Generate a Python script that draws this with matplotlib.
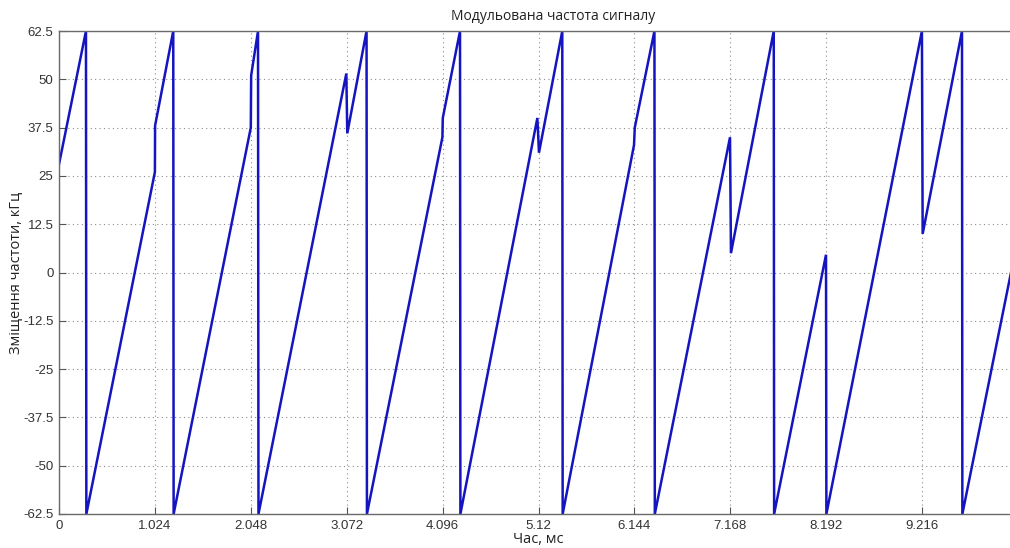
import numpy as np
import matplotlib
matplotlib.use('Agg')
import matplotlib.pyplot as plt

# time (ms) and frequency offset (kHz)
t_ms = [0.000, 0.288, 0.292, 1.024, 1.026, 1.220, 1.224,
        2.048, 2.050, 2.052, 2.125, 2.130,
        3.068, 3.078, 3.284, 3.288,
        4.094, 4.098, 4.282, 4.286,
        5.108, 5.125, 5.374, 5.378,
        6.140, 6.148, 6.358, 6.362,
        7.165, 7.175, 7.632, 7.636,
        8.190, 8.194,
        9.214, 9.218, 9.222, 9.642, 9.646,
        10.24]
f_khz = [28.0, 62.5, -62.5, 26.0, 38.0, 62.5, -62.5,
         37.5, 45.0, 51.0, 62.5, -62.5,
         51.5, 36.0, 62.5, -62.5,
         35.0, 40.0, 62.5, -62.5,
         40.0, 31.0, 62.5, -62.5,
         33.0, 37.5, 62.5, -62.5,
         35.0, 5.0, 62.5, -62.5,
         4.6, -62.5,
         62.5, 37.0, 10.0, 62.5, -62.5,
         9.0]

xticks = [0, 1.024, 2.048, 3.072, 4.096, 5.12, 6.144, 7.168, 8.192, 9.216]
xtick_labels = ['0', '1.024', '2.048', '3.072', '4.096', '5.12', '6.144',
                '7.168', '8.192', '9.216']
yticks = [-62.5, -50, -37.5, -25, -12.5, 0, 12.5, 25, 37.5, 50, 62.5]
ytick_labels = ['-62.5', '-50', '-37.5', '-25', '-12.5', '0', '12.5',
                '25', '37.5', '50', '62.5']

W, H = 1010, 548
fig = plt.figure(figsize=(W / 100, H / 100), dpi=100)
# axes run a little past the right edge of the picture (cropped like the original)
left, right, top, bottom = 59, 1018, 31, 514
ax = fig.add_axes([left / W, 1 - bottom / H, (right - left) / W, (bottom - top) / H])

ax.plot(t_ms, f_khz, color='#1414c0', linewidth=1.8, solid_joinstyle='miter')

ax.set_xlim(0, 10.24)
ax.set_ylim(-62.5, 62.5)
ax.set_xticks(xticks)
ax.set_xticklabels(xtick_labels)
ax.set_yticks(yticks)
ax.set_yticklabels(ytick_labels)

ax.grid(True, linestyle=(0, (1, 3)), color='#8c8c8c', linewidth=0.8)
ax.tick_params(direction='in', length=5, width=0.8, color='#555555',
               labelsize=9.5, labelcolor='#333333', pad=4, top=False, right=False)
for lab in ax.get_xticklabels() + ax.get_yticklabels():
    lab.set_family('Liberation Sans')
for sp in ax.spines.values():
    sp.set_color('#6a6a6a')
    sp.set_linewidth(1.0)

ax.set_xlabel('Час, мс', fontsize=10.5, family='Open Sans', color='#222222', labelpad=0)
ax.set_ylabel('Зміщення частоти, кГц', fontsize=10.5, family='Open Sans',
              color='#222222')
ax.yaxis.set_label_coords(-0.037, 0.5)
ax.set_title('Модульована частота сигналу', fontsize=10, family='Open Sans',
             color='#222222', x=0.515, pad=8)

fig.savefig('out.png', dpi=100)
